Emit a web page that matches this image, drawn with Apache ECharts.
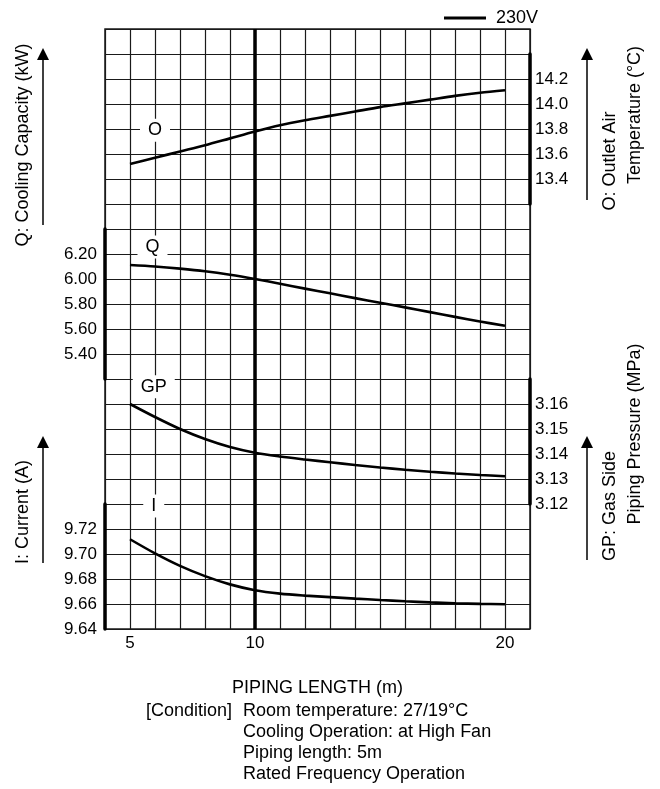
<!DOCTYPE html>
<html>
<head>
<meta charset="utf-8">
<script src="https://cdn.jsdelivr.net/npm/echarts@6/dist/echarts.min.js"></script>
<style>
html,body{margin:0;padding:0;background:#fff;}
#chart{width:660px;height:789px;}
</style>
</head>
<body>
<div id="chart"></div>
<script>
// ---- data ----
var pipingLength = [5,6,7,8,9,10,11,12,13,14,15,16,17,18,19,20];
var outletTemp   = [13.52,13.57,13.62,13.67,13.725,13.78,13.83,13.87,13.905,13.94,13.975,14.005,14.035,14.065,14.09,14.11];
var coolingCap   = [6.112,6.10,6.083,6.062,6.034,6.00,5.962,5.923,5.886,5.847,5.81,5.773,5.735,5.697,5.66,5.626];
var gasPressure  = [3.1600,3.1548,3.1500,3.1460,3.1428,3.1405,3.1390,3.1378,3.1367,3.1356,3.1346,3.1337,3.1329,3.1322,3.1316,3.1311];
var current      = [9.7118,9.7005,9.6905,9.6823,9.6757,9.6710,9.6683,9.6667,9.6655,9.6643,9.6632,9.6622,9.6613,9.6606,9.6601,9.6598];

var xTickLabels  = ['5','10','20'];
var oTickLabels  = ['13.4','13.6','13.8','14.0','14.2'];
var qTickLabels  = ['5.40','5.60','5.80','6.00','6.20'];
var gpTickLabels = ['3.12','3.13','3.14','3.15','3.16'];
var iTickLabels  = ['9.64','9.66','9.68','9.70','9.72'];
var refLength = 10;
var seriesName = '230V';

// ---- chart ----
var FONT = '"Liberation Sans", Arial, Helvetica, sans-serif';
var FS = 17;
var TFS = 18;
var chart = echarts.init(document.getElementById('chart'), null, {renderer:'canvas'});

function pairs(ys){ return pipingLength.map(function(x,i){ return [x, ys[i]]; }); }
function fmt(list, dec){ return function(v){ var s = v.toFixed(dec); return list.indexOf(s) >= 0 ? s : ''; }; }

var GL = 105, GW = 425;
var grids = [
  {left:GL, width:GW, top:29,  height:600},
  {left:GL, width:GW, top:54,  height:150},
  {left:GL, width:GW, top:229, height:150},
  {left:GL, width:GW, top:379, height:125},
  {left:GL, width:GW, top:504, height:125}
];

var xAxes = grids.map(function(g, i){
  var ax = {type:'value', gridIndex:i, min:4, max:21, interval:1,
    axisLine:{show:false}, axisTick:{show:false}, axisLabel:{show:false}, splitLine:{show:false}};
  if (i === 0) {
    ax.splitLine = {show:true, lineStyle:{color:'#1a1a1a', width:1.2}};
    ax.axisLabel = {show:true, formatter:function(v){ var s=String(v); return xTickLabels.indexOf(s)>=0?s:''; },
      color:'#000', fontSize:FS, fontFamily:FONT, margin:6};
    ax.name = 'PIPING LENGTH (m)';
    ax.nameLocation = 'middle';
    ax.nameGap = 50;
    ax.nameTextStyle = {color:'#000', fontSize:TFS, fontFamily:FONT};
  }
  return ax;
});

function sideAxis(gi, pos, min, max, interval, list, dec, extra){
  var a = {type:'value', gridIndex:gi, position:pos, min:min, max:max, interval:interval,
    axisLine:{show:true, onZero:false, lineStyle:{color:'#000', width:3.5}},
    axisTick:{show:false}, splitLine:{show:false},
    axisLabel:{show:true, formatter:fmt(list, dec), color:'#000', fontSize:FS, fontFamily:FONT,
      margin: pos === 'left' ? 8 : 5}};
  if (extra) Object.assign(a.axisLabel, extra);
  return a;
}

var yAxes = [
  {type:'value', gridIndex:0, min:0, max:24, interval:1,
   axisLine:{show:false}, axisTick:{show:false}, axisLabel:{show:false},
   splitLine:{show:true, lineStyle:{color:'#1a1a1a', width:1.2}}},
  sideAxis(1, 'right', 13.2, 14.4, 0.2, oTickLabels, 1),
  sideAxis(2, 'left', 5.2, 6.4, 0.2, qTickLabels, 2),
  sideAxis(3, 'right', 3.12, 3.17, 0.01, gpTickLabels, 2),
  sideAxis(4, 'left', 9.64, 9.74, 0.02, iTickLabels, 2, {padding:[0,0,6,0]})
];

function tagLabel(text, coord){
  return {symbol:'rect', symbolSize:1, itemStyle:{color:'rgba(0,0,0,0)'}, silent:true,
    label:{show:true, position:'inside', backgroundColor:'#fff', padding:[3,8,2,8],
      color:'#000', fontSize:TFS, fontFamily:FONT},
    data:[{coord:coord, value:text, label:{formatter:text}}]};
}

function curve(gi, ys, tag, tagCoord){
  return {name:seriesName, type:'line', xAxisIndex:gi, yAxisIndex:gi, data:pairs(ys),
    smooth:0.3, symbol:'none', showSymbol:false, z:5,
    lineStyle:{color:'#000', width:2.6}, itemStyle:{color:'#000'},
    markPoint: tagLabel(tag, tagCoord)};
}

var option = {
  backgroundColor:'#fff',
  animation:false,
  textStyle:{fontFamily:FONT},
  grid: grids.map(function(g,i){ var o = Object.assign({}, g); if(i===0){o.show=true; o.borderColor='#1a1a1a'; o.borderWidth=1.5;} return o; }),
  xAxis: xAxes,
  yAxis: yAxes,
  legend:{data:[{name:seriesName, icon:'rect'}], left:439, top:4, itemWidth:42, itemHeight:3,
    textStyle:{color:'#000', fontSize:TFS, fontFamily:FONT, padding:[0,0,0,5]}, selectedMode:false},
  series:[
    {name:'ref', type:'line', xAxisIndex:0, yAxisIndex:0, data:[], symbol:'none', z:4,
     markLine:{symbol:['none','none'], silent:true, label:{show:false},
       lineStyle:{color:'#000', width:3.5, type:'solid'}, data:[{xAxis:refLength}]}},
    curve(1, outletTemp, 'O', [6, 13.79]),
    curve(2, coolingCap, 'Q', [5.9, 6.256]),
    curve(3, gasPressure, 'GP', [5.95, 3.1669]),
    curve(4, current, 'I', [5.95, 9.7384])
  ],
  graphic:[
    // left titles
    {type:'text', x:23, y:145, rotation:Math.PI/2, style:{text:'Q: Cooling Capacity (kW)', fill:'#000', font:TFS+'px '+FONT, textAlign:'center', textVerticalAlign:'middle'}},
    {type:'text', x:23, y:512, rotation:Math.PI/2, style:{text:'I: Current (A)', fill:'#000', font:TFS+'px '+FONT, textAlign:'center', textVerticalAlign:'middle'}},
    // right titles
    {type:'text', x:610, y:161, rotation:Math.PI/2, style:{text:'O: Outlet Air', fill:'#000', font:TFS+'px '+FONT, textAlign:'center', textVerticalAlign:'middle'}},
    {type:'text', x:635, y:115, rotation:Math.PI/2, style:{text:'Temperature (°C)', fill:'#000', font:TFS+'px '+FONT, textAlign:'center', textVerticalAlign:'middle'}},
    {type:'text', x:610, y:506, rotation:Math.PI/2, style:{text:'GP: Gas Side', fill:'#000', font:TFS+'px '+FONT, textAlign:'center', textVerticalAlign:'middle'}},
    {type:'text', x:635, y:434, rotation:Math.PI/2, style:{text:'Piping Pressure (MPa)', fill:'#000', font:TFS+'px '+FONT, textAlign:'center', textVerticalAlign:'middle'}},
    // arrows
    {type:'line', shape:{x1:43, y1:225, x2:43, y2:58}, style:{stroke:'#000', lineWidth:1.5}},
    {type:'polygon', shape:{points:[[43,48],[37,60],[49,60]]}, style:{fill:'#000'}},
    {type:'line', shape:{x1:43, y1:563, x2:43, y2:446}, style:{stroke:'#000', lineWidth:1.5}},
    {type:'polygon', shape:{points:[[43,436],[37,448],[49,448]]}, style:{fill:'#000'}},
    {type:'line', shape:{x1:587, y1:200, x2:587, y2:58}, style:{stroke:'#000', lineWidth:1.5}},
    {type:'polygon', shape:{points:[[587,48],[581,60],[593,60]]}, style:{fill:'#000'}},
    {type:'line', shape:{x1:587, y1:560, x2:587, y2:446}, style:{stroke:'#000', lineWidth:1.5}},
    {type:'polygon', shape:{points:[[587,436],[581,448],[593,448]]}, style:{fill:'#000'}},
    // conditions
    {type:'text', x:146, y:711, style:{text:'[Condition]', fill:'#000', font:TFS+'px '+FONT, textVerticalAlign:'middle'}},
    {type:'text', x:243, y:711, style:{text:'Room temperature: 27/19°C', fill:'#000', font:TFS+'px '+FONT, textVerticalAlign:'middle'}},
    {type:'text', x:243, y:732, style:{text:'Cooling Operation: at High Fan', fill:'#000', font:TFS+'px '+FONT, textVerticalAlign:'middle'}},
    {type:'text', x:243, y:753, style:{text:'Piping length: 5m', fill:'#000', font:TFS+'px '+FONT, textVerticalAlign:'middle'}},
    {type:'text', x:243, y:774, style:{text:'Rated Frequency Operation', fill:'#000', font:TFS+'px '+FONT, textVerticalAlign:'middle'}}
  ]
};
chart.setOption(option);
</script>
</body>
</html>
